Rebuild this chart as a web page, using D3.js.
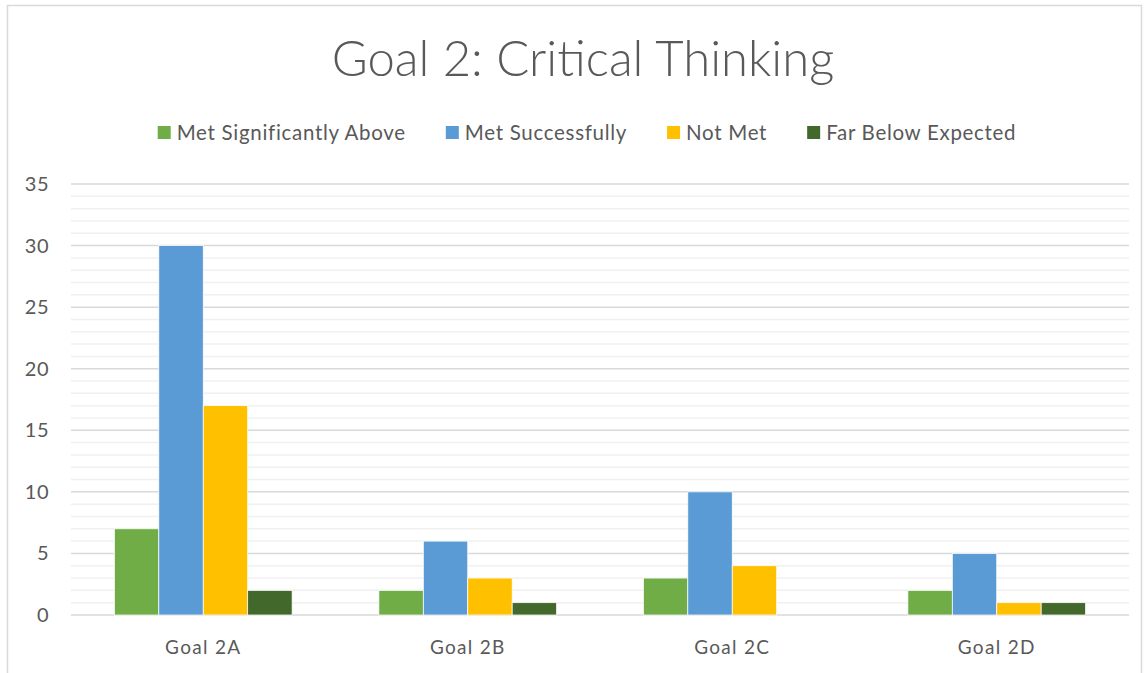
<!DOCTYPE html>
<html>
<head>
<meta charset="utf-8">
<script src="https://cdn.jsdelivr.net/npm/d3@7"></script>
<style>
  body { margin: 0; background: #fff; }
  text { font-family: Lato, "Open Sans", sans-serif; fill: #595959; }
</style>
</head>
<body>
<svg id="chart" width="1147" height="673"></svg>
<script>
// data
var categories = ["Goal 2A", "Goal 2B", "Goal 2C", "Goal 2D"];
var seriesNames = ["Met Significantly Above", "Met Successfully", "Not Met", "Far Below Expected"];
var metAbove = [7, 2, 3, 2];
var metOk = [30, 6, 10, 5];
var notMet = [17, 3, 4, 1];
var farBelow = [2, 1, 0, 1];
var yTicks = [0, 5, 10, 15, 20, 25, 30, 35];

var colors = ["#70AD47", "#5B9BD5", "#FFC000", "#43682B"];
var seriesValues = [metAbove, metOk, notMet, farBelow];

var width = 1147, height = 673;
var margin = { left: 71, right: 18, top: 184, bottom: 58 }; // plot 71..1129, 184..615

var svg = d3.select("#chart");

// outer chart border
svg.append("rect")
  .attr("x", 7.5).attr("y", 5.5)
  .attr("width", 1134).attr("height", 680)
  .attr("fill", "#fff").attr("stroke", "#D9D9D9").attr("stroke-width", 1.5);

var x0 = d3.scaleBand()
  .domain(categories)
  .range([margin.left, width - margin.right])
  .paddingInner(0.328)
  .paddingOuter(0.164);

var x1 = d3.scaleBand()
  .domain(d3.range(seriesNames.length))
  .range([0, x0.bandwidth()]);

var y = d3.scaleLinear()
  .domain([0, 35])
  .range([height - margin.bottom, margin.top]);

// minor gridlines
svg.append("g")
  .selectAll("line")
  .data(d3.range(0, 36).filter(function (d) { return d % 5 !== 0; }))
  .enter().append("line")
  .attr("x1", margin.left).attr("x2", width - margin.right)
  .attr("y1", function (d) { return y(d); })
  .attr("y2", function (d) { return y(d); })
  .attr("stroke", "#F0F0F0").attr("stroke-width", 1.5);

// major gridlines
svg.append("g")
  .selectAll("line")
  .data(yTicks)
  .enter().append("line")
  .attr("x1", margin.left).attr("x2", width - margin.right)
  .attr("y1", function (d) { return y(d); })
  .attr("y2", function (d) { return y(d); })
  .attr("stroke", "#D9D9D9").attr("stroke-width", 1.5);

// y tick labels
svg.append("g")
  .selectAll("text")
  .data(yTicks)
  .enter().append("text")
  .attr("x", 49)
  .attr("y", function (d) { return y(d); })
  .attr("dy", "0.35em")
  .attr("text-anchor", "end")
  .attr("font-size", 20)
  .attr("letter-spacing", 0.5)
  .text(function (d) { return d; });

// bars
var groups = svg.append("g")
  .selectAll("g")
  .data(categories)
  .enter().append("g")
  .attr("transform", function (d) { return "translate(" + x0(d) + ",0)"; });

groups.selectAll("rect")
  .data(function (d, i) {
    return seriesValues.map(function (vals, s) { return { s: s, v: vals[i] }; });
  })
  .enter().append("rect")
  .filter(function (d) { return d.v > 0; })
  .attr("x", function (d) { return x1(d.s); })
  .attr("y", function (d) { return y(d.v); })
  .attr("width", x1.bandwidth())
  .attr("height", function (d) { return y(0) - y(d.v); })
  .attr("fill", function (d) { return colors[d.s]; })
  .attr("stroke", "#fff").attr("stroke-width", 0.75);

// category labels
svg.append("g")
  .selectAll("text")
  .data(categories)
  .enter().append("text")
  .attr("x", function (d) { return x0(d) + x0.bandwidth() / 2; })
  .attr("y", 654)
  .attr("text-anchor", "middle")
  .attr("font-size", 19)
  .attr("letter-spacing", 1.3)
  .text(function (d) { return d; });

// title
svg.append("text")
  .attr("x", 583).attr("y", 76)
  .attr("text-anchor", "middle")
  .attr("font-size", 49)
  .attr("font-weight", 300)
  .text("Goal 2: Critical Thinking");

// legend
var legend = svg.append("g");
var items = legend.selectAll("g")
  .data(seriesNames)
  .enter().append("g");
items.append("rect")
  .attr("width", 13).attr("height", 13)
  .attr("y", 126)
  .attr("fill", function (d, i) { return colors[i]; });
items.append("text")
  .attr("x", 19).attr("y", 139.5)
  .attr("font-size", 20.5)
  .attr("letter-spacing", 0.7)
  .text(function (d) { return d; });

var pos = 0, gap = 40, starts = [];
items.each(function () {
  starts.push(pos);
  pos += 19 + d3.select(this).select("text").node().getComputedTextLength() + gap;
});
var total = pos - gap;
var left = 587 - total / 2;
items.attr("transform", function (d, i) { return "translate(" + (left + starts[i]) + ",0)"; });
</script>
</body>
</html>
